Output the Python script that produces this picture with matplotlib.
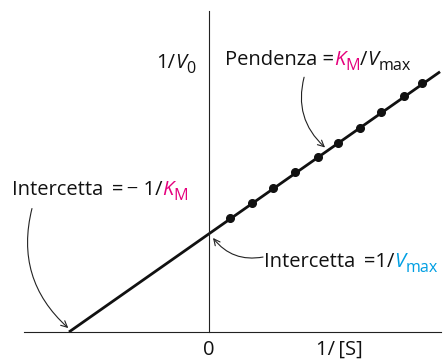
import matplotlib
matplotlib.use("Agg")
import matplotlib.pyplot as plt
import numpy as np

# Lineweaver-Burk plot (double reciprocal), arbitrary units
Km = 1.0
Vmax = 1.0
inv_S = [0.152, 0.312, 0.462, 0.615, 0.780, 0.925, 1.083, 1.233, 1.396, 1.527]
inv_V0 = [1.16, 1.32, 1.47, 1.63, 1.79, 1.93, 2.08, 2.25, 2.41, 2.54]
line_x_end = 1.656

MAGENTA = "#E5007D"
CYAN = "#009FE3"
INK = "#111111"
FS = 14.5
SUB = 0.8      # subscript size factor
DROP = -3.6    # subscript baseline shift, points
THIN = "\u2009"

plt.rcParams["font.family"] = ["Open Sans", "DejaVu Sans"]

fig = plt.figure(figsize=(4.43, 3.60), dpi=100)
ax = fig.add_axes([24 / 443, 28 / 360, 417 / 443, 321 / 360])
ax.set_xlim(-1.322, 1.663)
ax.set_ylim(0, 3.276)

for side in ("top", "right"):
    ax.spines[side].set_visible(False)
ax.spines["left"].set_position(("data", 0))
ax.spines["bottom"].set_position(("data", 0))
for side in ("left", "bottom"):
    ax.spines[side].set_linewidth(0.8)
    ax.spines[side].set_color("#222222")
ax.set_xticks([])
ax.set_yticks([])
ax.patch.set_alpha(0)

# fitted line through both intercepts
xs = np.array([-1.0 / Km, line_x_end])
ax.plot(xs, (Km / Vmax) * xs + 1.0 / Vmax, color=INK, lw=2.0,
        solid_capstyle="butt", clip_on=False)
ax.plot(inv_S, inv_V0, "o", color=INK, ms=5.5, clip_on=False)


def chain(parts, x, y):
    """Draw text pieces one after another along a shared baseline.

    Each piece is (text, colour, style, size factor, baseline shift in pt).
    """
    prev = None
    for s, c, st, f, dy in parts:
        kw = dict(color=c, fontsize=FS * f, fontstyle=st, ha="left",
                  va="baseline")
        if prev is None:
            prev = ax.annotate(s, xy=(x, y), xycoords="data",
                               xytext=(0, dy), textcoords="offset points",
                               annotation_clip=False, **kw)
        else:
            prev = ax.annotate(s, xy=(1, y), xycoords=(prev, "data"),
                               xytext=(0, dy), textcoords="offset points",
                               annotation_clip=False, **kw)
    return prev


N = "normal"
I = "italic"

# axis labels
chain([("1/", INK, N, 1, 0), ("V", INK, I, 1, 0), ("0", INK, N, SUB, DROP)],
      -0.375, 2.694)
ax.text(0, -0.235, "0", fontsize=FS, ha="center", va="baseline", color=INK)
ax.text(0.768, -0.235, "1/" + THIN + "[S]", fontsize=FS, ha="left",
        va="baseline", color=INK)

# annotations
chain([("Pendenza =", INK, N, 1, 0), ("K", MAGENTA, I, 1, 0),
       ("M", MAGENTA, N, SUB, DROP), ("/", INK, N, 1, 0),
       ("V", INK, I, 1, 0), ("max", INK, N, SUB, DROP)], 0.117, 2.724)
chain([("Intercetta " + THIN + "=" + THIN + "\u2212 1/", INK, N, 1, 0),
       ("K", MAGENTA, I, 1, 0), ("M", MAGENTA, N, SUB, DROP)],
      -1.408, 1.398)
chain([("Intercetta " + THIN + "=1/", INK, N, 1, 0), ("V", CYAN, I, 1, 0),
       ("max", CYAN, N, SUB, DROP)], 0.396, 0.663)

arrow = dict(arrowstyle="->,head_length=0.45,head_width=0.22", lw=0.8,
             color="#222222", shrinkA=0, shrinkB=0)
ax.annotate("", xy=(0.833, (Km / Vmax) * 0.833 + 1 / Vmax + 0.05),
            xytext=(0.683, 2.60),
            arrowprops=dict(arrow, connectionstyle="arc3,rad=0.3"))
ax.annotate("", xy=(-1.0 / Km - 0.005, 0.04), xytext=(-1.265, 1.26),
            arrowprops=dict(arrow, connectionstyle="arc3,rad=0.3"))
ax.annotate("", xy=(0.031, 1.0 / Vmax - 0.04), xytext=(0.389, 0.765),
            arrowprops=dict(arrow, connectionstyle="arc3,rad=-0.3"))

fig.savefig("out.png", dpi=100)
